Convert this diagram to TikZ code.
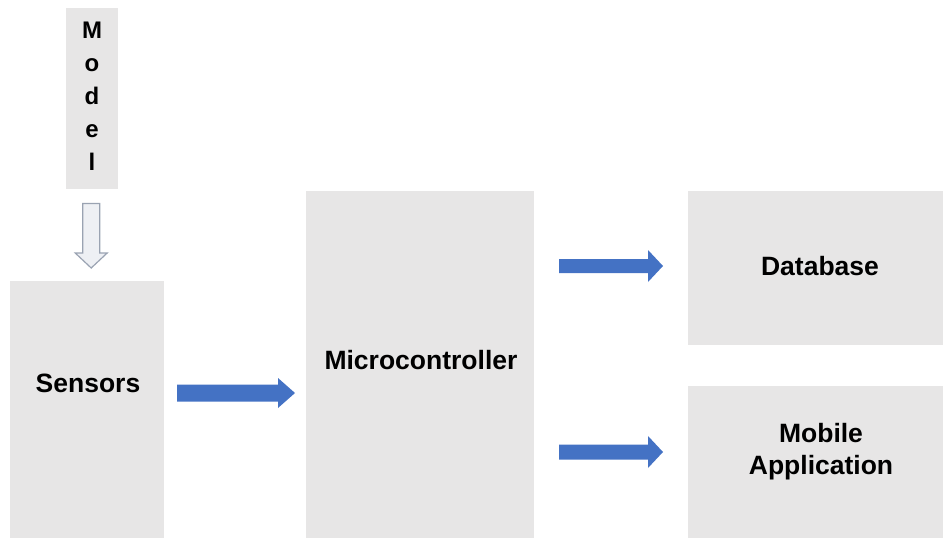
\documentclass[tikz,border=0pt]{standalone}
\usepackage{fontspec}
\setmainfont{Liberation Sans}
\usetikzlibrary{calc}
\definecolor{boxgray}{HTML}{E7E6E6}
\definecolor{flowblue}{HTML}{4472C4}
\definecolor{hollowfill}{HTML}{EEF0F4}
\definecolor{hollowline}{HTML}{9AA3B2}
\begin{document}
\begin{tikzpicture}[x=1pt,y=-1pt,
  block/.style={fill=boxgray, draw=none, inner sep=0pt, anchor=north west},
  caption/.style={font=\bfseries\fontsize{26.5}{32}\selectfont, align=center, inner sep=0pt},
  letter/.style={font=\bfseries\fontsize{24}{30}\selectfont, inner sep=0pt, anchor=base},
  flow/.style={fill=flowblue, draw=none},
  hollow/.style={draw=hollowline, fill=hollowfill, line width=1.2pt, line join=miter}]
\useasboundingbox (0,0) rectangle (943,538);

% boxes
\node[block, minimum width=52pt,  minimum height=181pt] (model)   at (66,8)   {};
\node[block, minimum width=154pt, minimum height=257pt] (sensors) at (10,281) {};
\node[block, minimum width=228pt, minimum height=347pt] (micro)   at (306,191) {};
\node[block, minimum width=255pt, minimum height=154pt] (db)      at (688,191) {};
\node[block, minimum width=255pt, minimum height=152pt] (mobile)  at (688,386) {};

% captions
\node[caption] (sensorsT) at (88,383)  {Sensors};
\node[caption] (microT)   at (421,360) {Microcontroller};
\node[caption] (dbT)      at (820,266) {Database};
\node[caption] (mobileT)  at (821,452) {Mobile\\Application};

% vertical lettering of the model box
\node[letter] (mM) at (92,38)  {M};
\node[letter] (mo) at (92,71)  {o};
\node[letter] (md) at (92,104) {d};
\node[letter] (me) at (92,137) {e};
\node[letter] (ml) at (92,170) {l};

% hollow arrow from the model box down to the sensors
\coordinate (hs) at ($(model.south)+(-1,14)$);
\coordinate (he) at ($(sensors.north -| hs)+(0,-13)$);
\draw[hollow] ($(hs)+(-8.5,0)$) -- ($(he)+(-8.5,-15)$) -- ($(he)+(-16,-15)$) -- (he)
  -- ($(he)+(16,-15)$) -- ($(he)+(8.5,-15)$) -- ($(hs)+(8.5,0)$) -- cycle;

% sensors -> microcontroller
\coordinate (a1s) at (177,393);
\coordinate (a1e) at (295,393);
\fill[flow] ($(a1s)+(0,-8.5)$) -- ($(a1e)+(-17,-8.5)$) -- ($(a1e)+(-17,-15)$) -- (a1e)
  -- ($(a1e)+(-17,15)$) -- ($(a1e)+(-17,8.5)$) -- ($(a1s)+(0,8.5)$) -- cycle;

% microcontroller -> database
\coordinate (a2s) at (559,266);
\coordinate (a2e) at (663,266);
\fill[flow] ($(a2s)+(0,-7)$) -- ($(a2e)+(-15,-7)$) -- ($(a2e)+(-15,-16)$) -- (a2e)
  -- ($(a2e)+(-15,16)$) -- ($(a2e)+(-15,7)$) -- ($(a2s)+(0,7)$) -- cycle;

% microcontroller -> mobile application
\coordinate (a3s) at (559,452);
\coordinate (a3e) at (663,452);
\fill[flow] ($(a3s)+(0,-7.5)$) -- ($(a3e)+(-15,-7.5)$) -- ($(a3e)+(-15,-16)$) -- (a3e)
  -- ($(a3e)+(-15,16)$) -- ($(a3e)+(-15,7.5)$) -- ($(a3s)+(0,7.5)$) -- cycle;
\end{tikzpicture}
\end{document}
